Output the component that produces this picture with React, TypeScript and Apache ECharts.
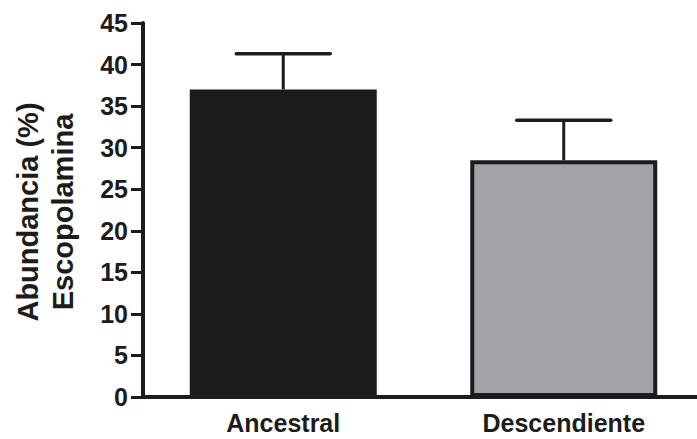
import React, { useEffect, useRef } from "react";
import * as echarts from "echarts";

const categories = ["Ancestral", "Descendiente"];
const means = [37.0, 28.5];
const upperErrors = [41.3, 33.3];
const barColors = ["#1c1c1c", "#a3a2a7"];
const yTitle = "Abundancia (%)\nEscopolamina";

const FONT = "'Liberation Sans', Arial, Helvetica, sans-serif";
const INK = "#1c1c1c";

export default function App() {
  const ref = useRef<HTMLDivElement>(null);
  useEffect(() => {
    if (!ref.current) return;
    const chart = echarts.init(ref.current, null, { renderer: "svg" });
    const option: any = {
      animation: false,
      backgroundColor: "#ffffff",
      grid: {
        left: 143,
        top: 23,
        width: 561,
        height: 374,
        containLabel: false,
        outerBoundsMode: "none",
      },
      xAxis: {
        type: "category",
        data: categories,
        axisLine: { lineStyle: { color: INK, width: 4 } },
        axisTick: { show: false },
        axisLabel: {
          color: INK,
          fontSize: 25,
          fontWeight: "bold",
          fontFamily: FONT,
          margin: 13,
        },
      },
      yAxis: {
        type: "value",
        min: 0,
        max: 45,
        interval: 5,
        splitLine: { show: false },
        axisLine: { show: true, lineStyle: { color: INK, width: 4 } },
        axisTick: { show: true, length: 12, lineStyle: { color: INK, width: 3 } },
        axisLabel: {
          color: INK,
          fontSize: 25,
          fontWeight: "bold",
          fontFamily: FONT,
          margin: 15,
        },
      },
      graphic: [
        {
          type: "text",
          x: 45,
          y: 212,
          rotation: Math.PI / 2,
          style: {
            text: yTitle,
            fontSize: 29,
            fontWeight: "bold",
            fontFamily: FONT,
            fill: INK,
            align: "center",
            verticalAlign: "middle",
            lineHeight: 35,
          },
        },
      ],
      series: [
        {
          type: "bar",
          barWidth: 187,
          data: means.map((v, i) => ({
            value: v,
            itemStyle: { color: barColors[i], borderColor: INK, borderWidth: 4 },
          })),
          z: 2,
        },
        {
          type: "custom",
          z: 3,
          data: categories.map((_, i) => [i, means[i], upperErrors[i]]),
          renderItem: (params: any, api: any) => {
            const idx = api.value(0);
            const top = api.coord([idx, api.value(1)]);
            const up = api.coord([idx, api.value(2)]);
            const half = 47;
            return {
              type: "group",
              children: [
                {
                  type: "line",
                  shape: { x1: top[0], y1: top[1], x2: up[0], y2: up[1] },
                  style: { stroke: INK, lineWidth: 3 },
                },
                {
                  type: "line",
                  shape: { x1: up[0] - half, y1: up[1], x2: up[0] + half, y2: up[1] },
                  style: { stroke: INK, lineWidth: 3.5, lineCap: "round" },
                },
              ],
            };
          },
        },
      ],
    };
    chart.setOption(option);
    return () => chart.dispose();
  }, []);
  return <div ref={ref} style={{ width: 697, height: 439, position: "absolute", left: 0, top: 0 }} />;
}
